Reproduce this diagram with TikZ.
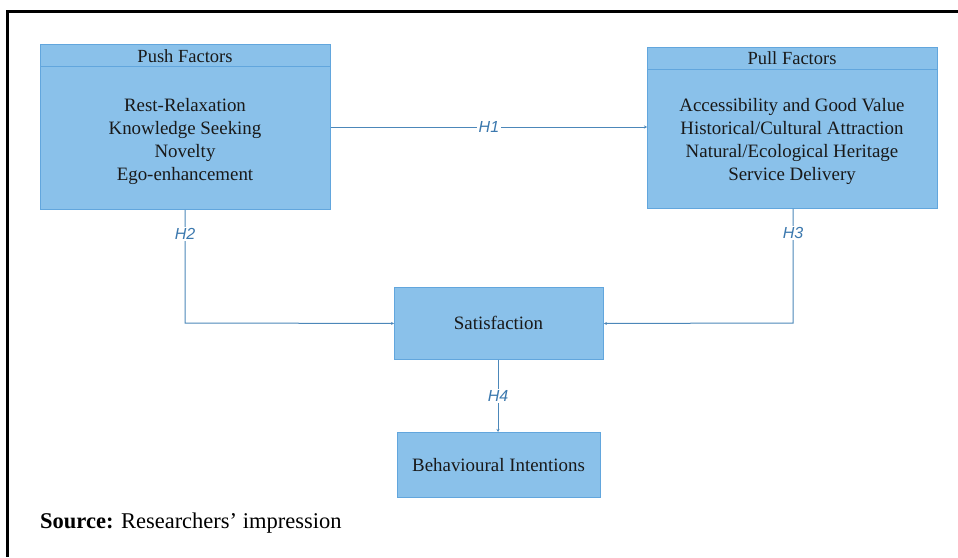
\documentclass[tikz,border=0pt]{standalone}
\usepackage{fontspec}
\setmainfont{Liberation Serif}
\newfontfamily\hfont{Liberation Sans}
\usetikzlibrary{arrows.meta}
\definecolor{boxfill}{HTML}{8AC1EA}
\definecolor{boxdraw}{HTML}{62A6DD}
\definecolor{linkc}{HTML}{4C87B9}
\definecolor{labc}{HTML}{3B78AE}
\tikzset{
  box/.style={draw=boxdraw, fill=boxfill, line width=0.9pt, inner sep=0pt},
  link/.style={draw=linkc, line width=1pt, -{Stealth[length=3pt,width=3pt]}},
  hlab/.style={fill=white, inner sep=1.5pt, text=labc, font=\hfont\itshape\fontsize{16}{19}\selectfont},
  body/.style={font=\fontsize{18.9}{22.7}\selectfont, align=center, text=black!90},
}
\begin{document}
\begin{tikzpicture}[x=1pt,y=-1pt]
\useasboundingbox (0,0) rectangle (958,557);
% frame
\draw[line width=3pt, line cap=rect] (7.5,11) -- (958,11);
\draw[line width=3pt] (7.5,11) -- (7.5,557);
% push box
\node[box, minimum width=290pt, minimum height=165pt, anchor=north west] (push) at (40,44) {};
\draw[boxdraw, line width=0.8pt] (40,66) -- (330,66);
\node[font=\fontsize{18.5}{22}\selectfont, text=black!90] (pusht) at (185,56) {Push Factors};
\node[body] (pushb) at (185,141.5) {Rest-Relaxation\\Knowledge Seeking\\Novelty\\Ego-enhancement};
% pull box
\node[box, minimum width=290pt, minimum height=161pt, anchor=north west] (pull) at (647,47) {};
\draw[boxdraw, line width=0.8pt] (647,69) -- (937,69);
\node[font=\fontsize{18.5}{22}\selectfont, text=black!90] (pullt) at (792,58) {Pull Factors};
\node[body] (pullb) at (792,141.5) {Accessibility and Good Value\\Historical/Cultural Attraction\\Natural/Ecological Heritage\\Service Delivery};
% satisfaction
\node[box, minimum width=209pt, minimum height=72pt, anchor=north west] (sat) at (394,287) {};
\node[body] (satt) at (498.5,323) {Satisfaction};
% behavioural
\node[box, minimum width=203pt, minimum height=65pt, anchor=north west] (beh) at (397,432) {};
\node[body] (beht) at (498.5,465) {Behavioural Intentions};
% connectors
\coordinate (c2) at (185,323);
\coordinate (c3) at (793,323);
\draw[link] (push.east |- 0,127) -- node[hlab]{H1} (pull.west |- 0,127);
\draw[link] (push.south -| c2) -- node[hlab, pos=0.21]{H2} (c2) -- (sat.west);
\draw[link] (pull.south -| c3) -- node[hlab, pos=0.21]{H3} (c3) -- (sat.east);
\draw[link] (sat.south -| 498,0) -- node[hlab, pos=0.5]{H4} (beh.north -| 498,0);
% source
\node[anchor=west, inner sep=0pt, font=\fontsize{22.5}{26}\selectfont] (src) at (40,523) {\textbf{Source:} Researchers’ impression};
\end{tikzpicture}
\end{document}
